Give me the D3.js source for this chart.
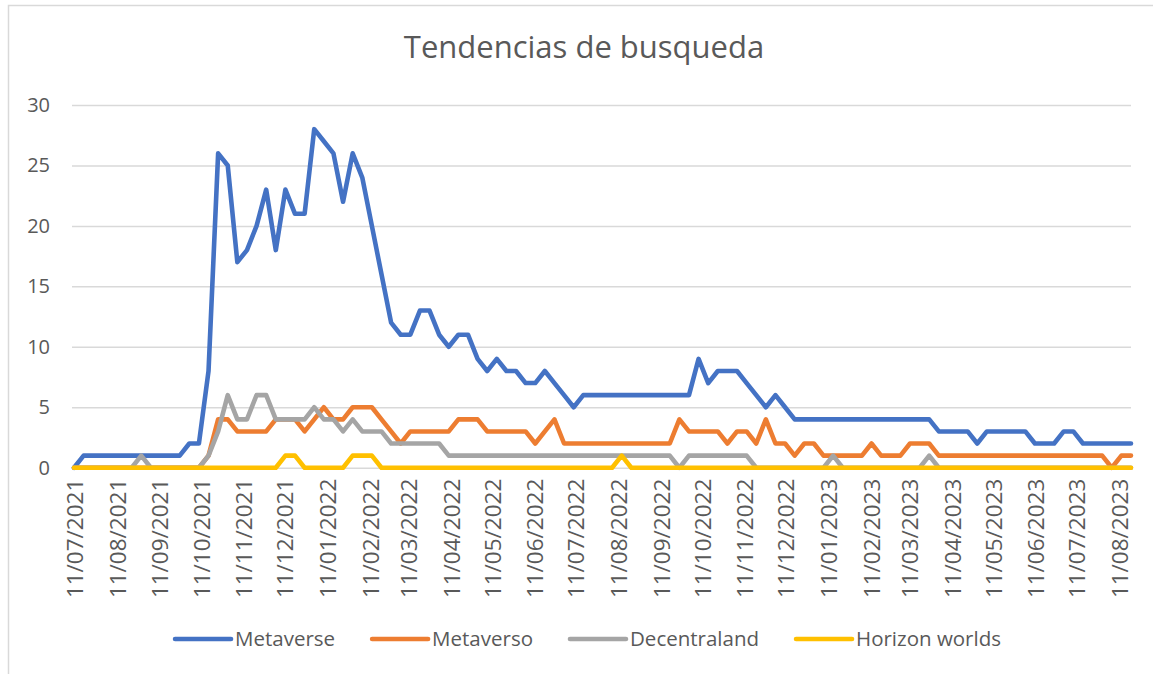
<!DOCTYPE html>
<html>
<head>
<meta charset="utf-8">
<script src="https://cdn.jsdelivr.net/npm/d3@7"></script>
<style>
  html, body { margin: 0; padding: 0; background: #fff; }
  svg { display: block; font-family: "Open Sans", "Noto Sans", sans-serif; }
</style>
</head>
<body>
<svg id="chart" width="1153" height="674"></svg>
<script>
// ---------- data ----------
const title = "Tendencias de busqueda";
const startWeek = "11/07/2021";      // first weekly observation (dd/mm/yyyy)
const seriesNames = ["Metaverse", "Metaverso", "Decentraland", "Horizon worlds"];
const seriesColors = ["#4472C4", "#ED7D31", "#A5A5A5", "#FFC000"];

const metaverse = [
  0, 1,1,1,1,1,1,1,1,1,1,1, 2,2,
  8,26,25,17,18,20,23,18,23,21,21,28,27,26,22,26,24,20,16,12,11,11,13,13,11,10,
  11,11,9,8,9,8,8,7,7,8,7,6,5,
  6,6,6,6,6,6,6,6,6,6,6,6,
  9,7,8,8,8,7,6,5,6,5,
  4,4,4,4,4,4,4,4,4,4,4,4,4,4,4,
  3,3,3,3, 2, 3,3,3,3,3, 2,2,2, 3,3, 2,2,2,2,2,2
];
const metaverso = [
  0,0,0,0,0,0,0,0,0,0,0,0,0,0,
  1,4,4,3,3,3,3,4,4,4,3,4,5,4,4,5,5,5,4,3,2,
  3,3,3,3,3, 4,4,4, 3,3,3,3,3, 2,3,4,2,
  2,2,2,2,2,2,2,2,2,2,2,
  4, 3,3,3,3, 2,3,3,2,4,2,2, 1,2,2,1, 1,1,1,1, 2, 1,1,1, 2,2,2,
  1,1,1,1,1,1,1,1,1,1,1,1,1,1,1,1,1,1, 0, 1,1
];
const decentraland = [
  0,0,0,0,0,0,0, 1, 0,0,0,0,0,0,
  1,3,6,4,4,6,6,4,4,4,4,5,4,4,3,4,3,3,3,
  2,2,2,2,2,2,
  1,1,1,1,1,1,1,1,1,1,1,1,1,1,1,1,1,1,1,1,1,1,1,1,
  0, 1,1,1,1,1,1,1, 0,0,0,0,0,0,0,0, 1, 0,0,0,0,0,0,0,0,0, 1,
  0,0,0,0,0,0,0,0,0,0,0,0,0,0,0,0,0,0,0,0,0
];
const horizonWorlds = [
  0,0,0,0,0,0,0,0,0,0,0,0,0,0,0,0,0,0,0,0,0,0,
  1,1, 0,0,0,0,0, 1,1,1,
  0,0,0,0,0,0,0,0,0,0,0,0,0,0,0,0,0,0,0,0,0,0,0,0,0,
  1,
  0,0,0,0,0,0,0,0,0,0,0,0,0,0,0,0,0,0,0,0,0,0,0,0,0,0,0,0,0,0,
  0,0,0,0,0,0,0,0,0,0,0,0,0,0,0,0,0,0,0,0,0,0,0
];
const xTickLabels = [
  "11/07/2021","11/08/2021","11/09/2021","11/10/2021","11/11/2021","11/12/2021",
  "11/01/2022","11/02/2022","11/03/2022","11/04/2022","11/05/2022","11/06/2022",
  "11/07/2022","11/08/2022","11/09/2022","11/10/2022","11/11/2022","11/12/2022",
  "11/01/2023","11/02/2023","11/03/2023","11/04/2023","11/05/2023","11/06/2023",
  "11/07/2023","11/08/2023"
];
const yTicks = [0, 5, 10, 15, 20, 25, 30];

// ---------- build ----------
const parse = d3.utcParse("%d/%m/%Y");
const t0 = parse(startWeek);
const allSeries = [metaverse, metaverso, decentraland, horizonWorlds];
const nPts = d3.max(allSeries, s => s.length);
const dates = d3.range(nPts).map(i => d3.utcWeek.offset(t0, i));

const svg = d3.select("#chart");
const textColor = "#595959";
const gridColor = "#D9D9D9";

// chart area border (left + top visible)
svg.append("path")
  .attr("d", "M8.5,674 L8.5,5.5 L1153,5.5")
  .attr("fill", "none").attr("stroke", gridColor).attr("stroke-width", 1.5);

const plot = { left: 72, right: 1131, top: 105, bottom: 467.7 };

const x = d3.scaleUtc()
  .domain([dates[0], dates[dates.length - 1]])
  .range([74, 1131]);
const y = d3.scaleLinear().domain([0, 30]).range([plot.bottom, plot.top]);

// title
svg.append("text")
  .attr("x", 584).attr("y", 58)
  .attr("text-anchor", "middle")
  .attr("fill", textColor)
  .attr("font-size", 31)
  .text(title);

// gridlines
const grid = svg.append("g").attr("transform", `translate(${plot.left},0)`)
  .call(d3.axisLeft(y).tickValues(yTicks).tickSize(-(plot.right - plot.left)).tickFormat(""));
grid.select(".domain").remove();
grid.selectAll("line").attr("stroke", gridColor).attr("stroke-width", 1.5);

// y labels
const yAx = svg.append("g").attr("transform", `translate(50,0)`)
  .call(d3.axisLeft(y).tickValues(yTicks).tickSize(0).tickPadding(0));
yAx.select(".domain").remove();
yAx.selectAll("text").attr("fill", textColor).attr("font-size", 20)
  .attr("font-family", "'Open Sans', sans-serif");

// x labels
const xAx = svg.append("g").attr("transform", `translate(0,${plot.bottom})`)
  .call(d3.axisBottom(x).tickValues(xTickLabels.map(parse)).tickSize(0)
    .tickFormat((d, i) => xTickLabels[i]));
xAx.select(".domain").remove();
xAx.selectAll("text")
  .attr("fill", textColor).attr("font-size", 22.5)
  .attr("font-family", "'Open Sans', sans-serif")
  .attr("text-anchor", "end")
  .attr("transform", "rotate(-90)")
  .attr("x", -11).attr("y", 1).attr("dy", "0.35em");

// lines
const line = d3.line().x((d, i) => x(dates[i])).y(d => y(d));
allSeries.forEach((s, k) => {
  svg.append("path")
    .datum(s)
    .attr("fill", "none")
    .attr("stroke", seriesColors[k])
    .attr("stroke-width", 4.6)
    .attr("stroke-linejoin", "round")
    .attr("stroke-linecap", "round")
    .attr("d", line);
});

// legend
const legend = svg.append("g");
let lx = 0;
seriesNames.forEach((name, k) => {
  const g = legend.append("g").attr("transform", `translate(${lx},0)`);
  g.append("line").attr("x1", 0).attr("x2", 56).attr("y1", 0).attr("y2", 0)
    .attr("stroke", seriesColors[k]).attr("stroke-width", 4.6).attr("stroke-linecap", "round");
  const t = g.append("text").attr("x", 60).attr("y", 0).attr("dy", "0.35em")
    .attr("fill", textColor).attr("font-size", 20.5).text(name);
  lx += 60 + t.node().getComputedTextLength() + 37;
});
const legW = lx - 37;
legend.attr("transform", `translate(${588 - legW / 2},639)`);
</script>
</body>
</html>
